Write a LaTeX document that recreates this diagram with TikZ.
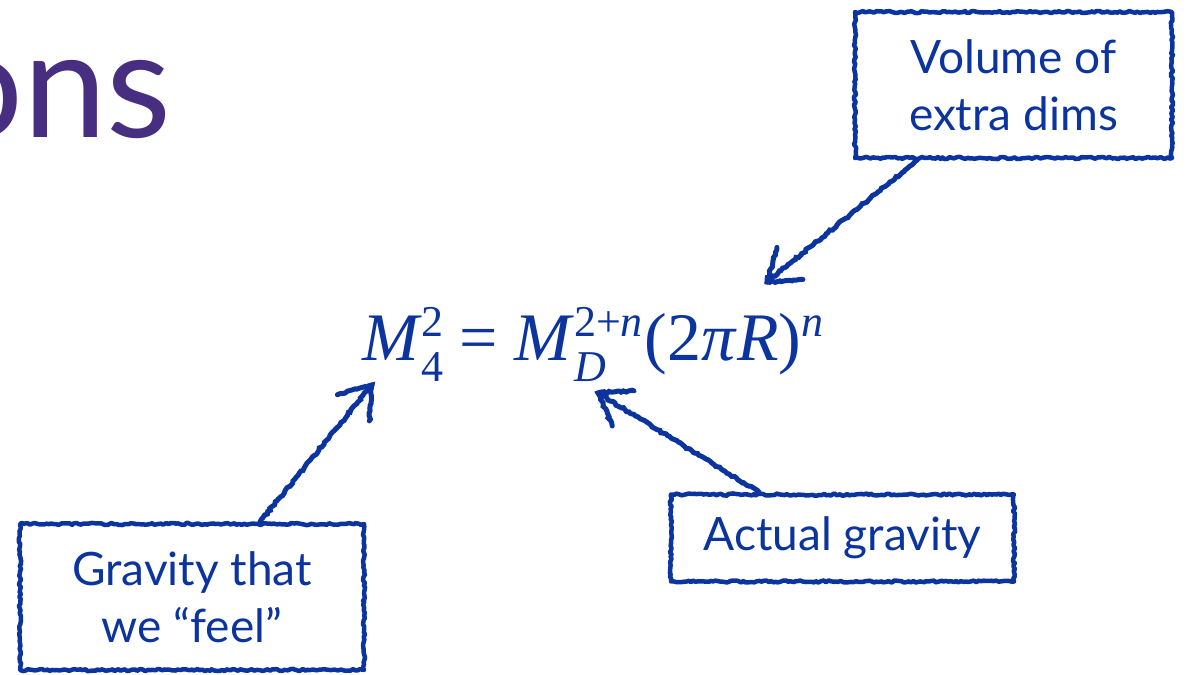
\documentclass[tikz,border=0pt]{standalone}
\usepackage{fontspec}
\setmainfont{Lato}
\newfontfamily\eqf{Liberation Serif}
\usetikzlibrary{decorations.pathmorphing,calc}
\definecolor{ink}{RGB}{12,52,158}
\definecolor{titlepurple}{RGB}{72,46,128}
\newcommand\eqsz{\fontsize{44}{44}\selectfont}
\tikzset{
  rough/.style={draw=ink, line width=4.5pt, line cap=round, line join=round,
    decorate, decoration={random steps, segment length=2.5pt, amplitude=1.1pt}},
  note/.style={rough, text=ink, align=center, inner sep=0pt,
    font=\fontsize{46}{57}\selectfont},
  barb/.style={draw=ink, line width=5pt, line cap=round,
    decorate, decoration={random steps, segment length=2.5pt, amplitude=1pt}},
}
\begin{document}
\begin{tikzpicture}[x=1pt,y=-1pt]
\pgfmathsetseed{7}
\useasboundingbox (0,0) rectangle (1187,675);
% partial title
\node[anchor=base east, inner sep=0pt, text=titlepurple,
  font=\fontsize{150}{150}\selectfont] (title) at (172,137) {ons};
% boxes
\node[note, minimum width=317pt, minimum height=146pt] (vol) at (1013.5,85) {Volume of\\extra dims};
\node[note, minimum width=344pt, minimum height=146pt] (feel) at (192,597) {Gravity that\\we ``feel''};
\node[note, minimum width=343pt, minimum height=87pt] (act) at (842.5,538) {Actual gravity};
% equation
\node[anchor=base west, inner sep=0pt, text=ink] (eq) at (362,360)
  {\eqf\fontsize{68}{68}\selectfont
   \textit{M}\rlap{\raisebox{24pt}{\eqsz 2}}\raisebox{-21pt}{\eqsz 4}\kern16pt=\kern16pt%
   \textit{M}\rlap{\raisebox{-21pt}{\eqsz\textit{D}}}\raisebox{24pt}{\eqsz 2+\textit{n}}%
   \kern2pt(2\textit{π}\textit{R})\raisebox{24pt}{\eqsz\textit{n}}};
% arrow tips
\coordinate (tipV) at (767,282);
\coordinate (tipF) at (372,385);
\coordinate (tipA) at (598,393);
\coordinate (startV) at ($(vol.south west)!0.2!(vol.south east)$);
\coordinate (startF) at ($(feel.north west)!0.695!(feel.north east)$);
\coordinate (startA) at ($(act.north west)!0.26!(act.north east)$);
\foreach \s/\t in {startV/tipV, startF/tipF, startA/tipA}{
  \draw[barb] (\s) -- (\t);
  \draw[barb] ($(\t)!36pt!35:(\s)$) -- (\t) -- ($(\t)!36pt!-35:(\s)$);
}
\end{tikzpicture}
\end{document}
